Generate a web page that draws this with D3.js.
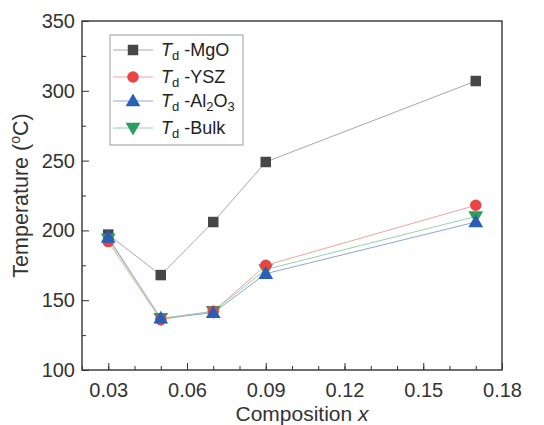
<!DOCTYPE html>
<html>
<head>
<meta charset="utf-8">
<script src="https://cdn.jsdelivr.net/npm/d3@7"></script>
<style>
  body { margin: 0; background: #fff; }
  svg { font-family: "Liberation Sans", Arial, sans-serif; }
</style>
</head>
<body>
<div id="chart"></div>
<script>
const composition = [0.03, 0.05, 0.07, 0.09, 0.17];
const mgo = [197, 168, 206, 249, 307];
const ysz = [192, 136, 142, 175, 218];
const al2o3 = [195, 137, 141, 169, 206];
const bulk = [194, 137, 142, 172, 210];
const xTicks = [0.03, 0.06, 0.09, 0.12, 0.15, 0.18];
const yTicks = [100, 150, 200, 250, 300, 350];

const series = [
    { name: "MgO", values: mgo, color: "#474747", line: "#a8a8a8", symbol: d3.symbolSquare, size: 110 },
    { name: "YSZ", values: ysz, color: "#e84545", line: "#f2a49a", symbol: d3.symbolCircle, size: 105 },
    { name: "Al2O3", values: al2o3, color: "#2a5fb5", line: "#8aa6dc", symbol: d3.symbolTriangle, size: 95 },
    { name: "Bulk", values: bulk, color: "#2e9e5e", line: "#98d0ac", symbol: d3.symbolTriangle, size: 95, flip: true }
];
// drawing order of the markers (Al2O3 ends on top)
const drawOrder = ["MgO", "Bulk", "YSZ", "Al2O3"];

const width = 544, height = 425;
const margin = { top: 21, right: 42, bottom: 55, left: 82 };

const x = d3.scaleLinear().domain([0.02, 0.18]).range([margin.left, width - margin.right]);
const y = d3.scaleLinear().domain([100, 350]).range([height - margin.bottom, margin.top]);

const svg = d3.select("#chart").append("svg")
    .attr("width", width)
    .attr("height", height);

// minor ticks
const xMinor = d3.range(0.02, 0.1801, 0.01).map(v => +v.toFixed(2));
svg.append("g")
    .attr("transform", `translate(0,${y(100)})`)
    .call(d3.axisBottom(x).tickValues(xMinor).tickSize(-4).tickFormat(""))
    .call(g => g.select(".domain").remove())
    .selectAll("line").attr("stroke", "#333");
svg.append("g")
    .attr("transform", `translate(${x(0.02)},0)`)
    .call(d3.axisLeft(y).tickValues(d3.range(125, 350, 50)).tickSize(-4).tickFormat(""))
    .call(g => g.select(".domain").remove())
    .selectAll("line").attr("stroke", "#333");

// major axes
svg.append("g")
    .attr("transform", `translate(0,${y(100)})`)
    .call(d3.axisBottom(x).tickValues(xTicks).tickSize(-7).tickPadding(13).tickFormat(d3.format(".2f")))
    .call(g => g.select(".domain").remove())
    .call(g => g.selectAll("line").attr("stroke", "#333"))
    .call(g => g.selectAll("text").attr("font-size", 20).attr("fill", "#333"));

svg.append("g")
    .attr("transform", `translate(${x(0.02)},0)`)
    .call(d3.axisLeft(y).tickValues(yTicks).tickSize(-7).tickPadding(7))
    .call(g => g.select(".domain").remove())
    .call(g => g.selectAll("line").attr("stroke", "#333"))
    .call(g => g.selectAll("text").attr("font-size", 20).attr("fill", "#333"));

// frame
svg.append("rect")
    .attr("x", x(0.02)).attr("y", y(350))
    .attr("width", x(0.18) - x(0.02)).attr("height", y(100) - y(350))
    .attr("fill", "none").attr("stroke", "#333").attr("stroke-width", 1.4);

const line = d3.line().x((d, i) => x(composition[i])).y(d => y(d));

series.forEach(s => {
    svg.append("path")
        .datum(s.values)
        .attr("fill", "none")
        .attr("stroke", s.line)
        .attr("stroke-width", 1)
        .attr("d", line);
});

const shift = s => s.symbol === d3.symbolTriangle ? (s.flip ? -1 : 1) : 0;

drawOrder.map(n => series.find(s => s.name === n)).forEach(s => {
    svg.append("g").selectAll("path")
        .data(s.values)
        .join("path")
        .attr("d", d3.symbol().type(s.symbol).size(s.size))
        .attr("transform", (d, i) => `translate(${x(composition[i])},${y(d) + shift(s)}) rotate(${s.flip ? 180 : 0})`)
        .attr("fill", s.color);
});

// legend
const legend = svg.append("g").attr("transform", "translate(110,35)");
legend.append("rect")
    .attr("width", 133).attr("height", 110)
    .attr("fill", "#fff").attr("stroke", "#999").attr("stroke-width", 1);

const rowY = [15, 42, 66, 93];
series.forEach((s, i) => {
    const g = legend.append("g").attr("transform", `translate(0,${rowY[i]})`);
    g.append("line").attr("x1", 3).attr("x2", 43).attr("stroke", s.line);
    g.append("path")
        .attr("d", d3.symbol().type(s.symbol).size(s.size))
        .attr("transform", `translate(23,${shift(s)}) rotate(${s.flip ? 180 : 0})`)
        .attr("fill", s.color);
    const t = g.append("text").attr("x", 51).attr("y", 6).attr("font-size", 18).attr("fill", "#222");
    t.append("tspan").attr("font-style", "italic").text("T");
    t.append("tspan").attr("font-size", 13).attr("dy", 4).text("d");
    if (s.name === "Al2O3") {
        t.append("tspan").attr("dy", -4).text(" -Al");
        t.append("tspan").attr("font-size", 13).attr("dy", 4).text("2");
        t.append("tspan").attr("dy", -4).text("O");
        t.append("tspan").attr("font-size", 13).attr("dy", 4).text("3");
    } else {
        t.append("tspan").attr("dy", -4).text(" -" + s.name);
    }
});

// axis titles
const yt = svg.append("text")
    .attr("transform", `translate(28,${(y(100) + y(350)) / 2}) rotate(-90)`)
    .attr("text-anchor", "middle")
    .attr("font-size", 21.5).attr("fill", "#333");
yt.append("tspan").text("Temperature (");
yt.append("tspan").attr("font-size", 14).attr("dy", -8).text("o");
yt.append("tspan").attr("dy", 8).text("C)");

const xt = svg.append("text")
    .attr("x", 302)
    .attr("y", 421)
    .attr("text-anchor", "middle")
    .attr("font-size", 21).attr("fill", "#333");
xt.append("tspan").text("Composition ");
xt.append("tspan").attr("font-style", "italic").text("x");
</script>
</body>
</html>
